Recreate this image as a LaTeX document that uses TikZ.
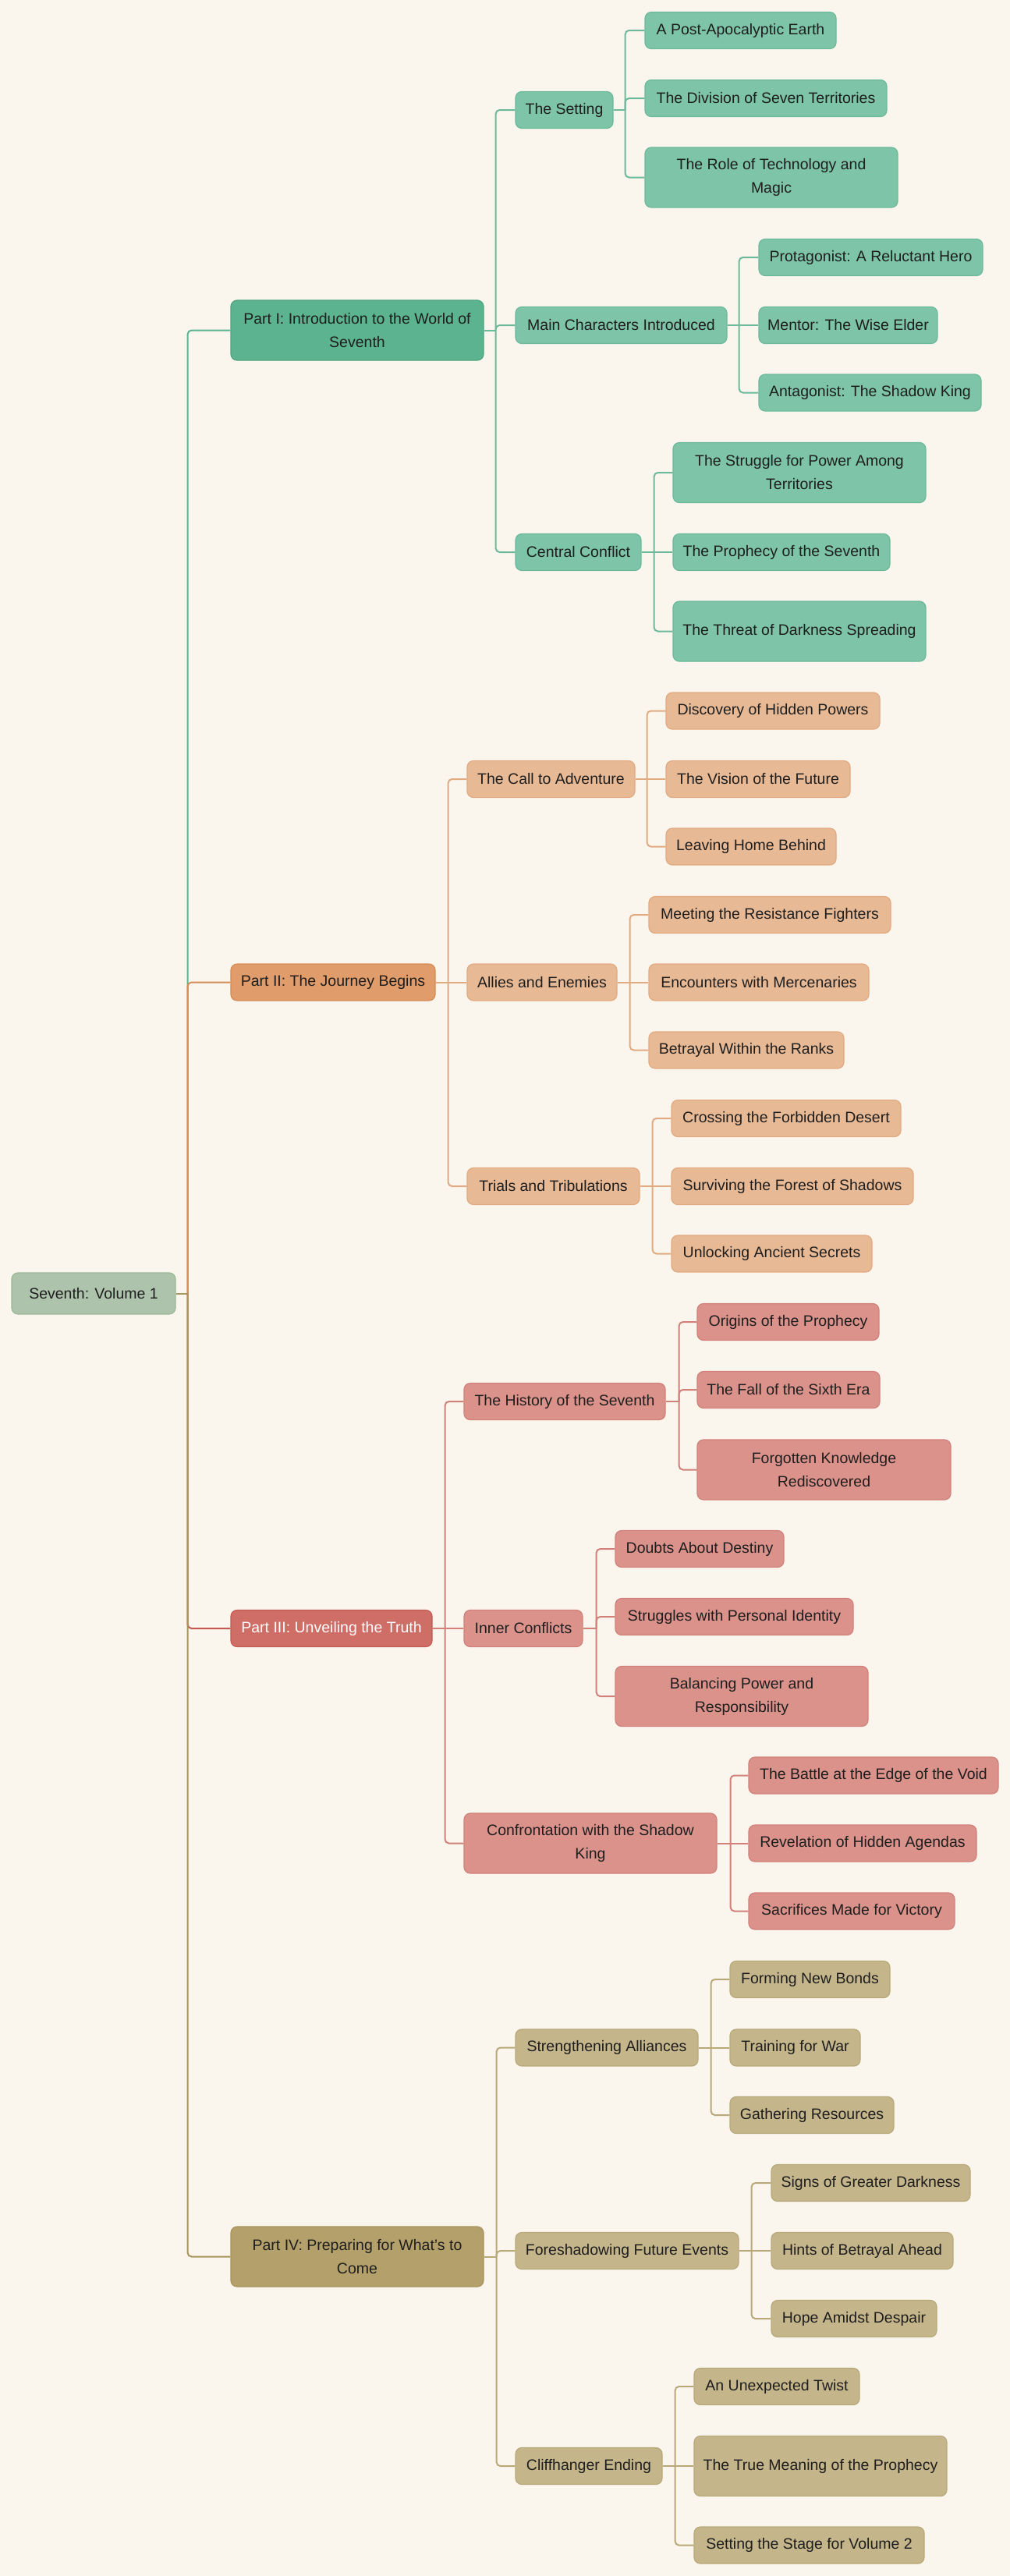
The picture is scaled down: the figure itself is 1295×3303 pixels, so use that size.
\documentclass[tikz,border=0pt]{standalone}
\usepackage{fontspec}
\setmainfont{Liberation Sans}
\definecolor{paper}{HTML}{FAF6EE}
\definecolor{ink}{HTML}{1E1E1E}
\definecolor{rootf}{HTML}{AEC3AB}
\definecolor{rootd}{HTML}{9CB898}
\definecolor{gfa}{HTML}{5BB38F}
\definecolor{gda}{HTML}{4EA47F}
\definecolor{gfb}{HTML}{7DC4A8}
\definecolor{gdb}{HTML}{6DBA9A}
\definecolor{ofa}{HTML}{E09C6A}
\definecolor{oda}{HTML}{D58B56}
\definecolor{ofb}{HTML}{E8B995}
\definecolor{odb}{HTML}{E2AA80}
\definecolor{rfa}{HTML}{CF6E66}
\definecolor{rda}{HTML}{C45A52}
\definecolor{rfb}{HTML}{DA928B}
\definecolor{rdb}{HTML}{D2807A}
\definecolor{yfa}{HTML}{B3A06A}
\definecolor{yda}{HTML}{A8955D}
\definecolor{yfb}{HTML}{C4B58B}
\definecolor{ydb}{HTML}{B9A978}
\tikzset{
    topic/.style={rectangle,rounded corners=8pt,line width=1.2pt,inner sep=0pt,
        minimum height=47pt,align=center,text=ink,font=\fontsize{19.5}{30}\selectfont},
    tall/.style={minimum height=77pt},
    root/.style={topic,fill=rootf,draw=rootd,minimum height=53pt},
    partI/.style={topic,fill=gfa,draw=gda},
    subI/.style={topic,fill=gfb,draw=gdb},
    partII/.style={topic,fill=ofa,draw=oda},
    subII/.style={topic,fill=ofb,draw=odb},
    partIII/.style={topic,fill=rfa,draw=rda,text=white},
    subIII/.style={topic,fill=rfb,draw=rdb},
    partIV/.style={topic,fill=yfa,draw=yda},
    subIV/.style={topic,fill=yfb,draw=ydb},
    edgeI/.style={draw=gfa,line width=2pt,rounded corners=5pt},
    twigI/.style={draw=gdb,line width=2pt,rounded corners=5pt},
    edgeII/.style={draw=oda,line width=2pt,rounded corners=5pt},
    twigII/.style={draw=odb,line width=2pt,rounded corners=5pt},
    edgeIII/.style={draw=rda,line width=2pt,rounded corners=5pt},
    twigIII/.style={draw=rdb,line width=2pt,rounded corners=5pt},
    edgeIV/.style={draw=yda,line width=2pt,rounded corners=5pt},
    twigIV/.style={draw=ydb,line width=2pt,rounded corners=5pt},
}
\begin{document}
\begin{tikzpicture}[x=1pt,y=-1pt]
    \fill[paper] (0,0) rectangle (1295,3303);
    \useasboundingbox (0,0) rectangle (1295,3303);
    % centre and parts
    \node[root, minimum width=210] (root) at (120,1658.5) {Seventh: Volume 1};
    \node[partI, tall, minimum width=324] (p1) at (458,423.5) {Part I: Introduction to the World of\\Seventh};
    \node[partII, minimum width=262] (p2) at (427,1259.5) {Part II: The Journey Begins};
    \node[partIII, minimum width=258] (p3) at (425,2088) {Part III: Unveiling the Truth};
    \node[partIV, tall, minimum width=324] (p4) at (458,2893.5) {Part IV: Preparing for What’s to\\Come};
    % part I
    \node[subI, minimum width=125] (setting) at (723.5,141) {The Setting};
    \node[subI, minimum width=271] (chars) at (796.5,417) {Main Characters Introduced};
    \node[subI, minimum width=161] (conflict) at (741.5,708) {Central Conflict};
    \node[subI, minimum width=245] (earth) at (949.5,39) {A Post-Apocalyptic Earth};
    \node[subI, minimum width=310] (division) at (982,126) {The Division of Seven Territories};
    \node[subI, tall, minimum width=324] (techmagic) at (989,227.5) {The Role of Technology and\\Magic};
    \node[subI, minimum width=287] (hero) at (1116.5,330) {Protagonist: A Reluctant Hero};
    \node[subI, minimum width=229] (elder) at (1087.5,417) {Mentor: The Wise Elder};
    \node[subI, minimum width=285] (shadowking) at (1115.5,503.5) {Antagonist: The Shadow King};
    \node[subI, tall, minimum width=324] (struggle) at (1025,606) {The Struggle for Power Among\\Territories};
    \node[subI, minimum width=278] (prophecy) at (1002,708) {The Prophecy of the Seventh};
    \node[subI, tall, minimum width=324] (darkness) at (1025,809.5) {The Threat of Darkness Spreading};
    % part II
    \node[subII, minimum width=215] (call) at (706.5,999) {The Call to Adventure};
    \node[subII, minimum width=192] (allies) at (695,1259.5) {Allies and Enemies};
    \node[subII, minimum width=221] (trials) at (709.5,1521) {Trials and Tribulations};
    \node[subII, minimum width=274] (powers) at (991,911.5) {Discovery of Hidden Powers};
    \node[subII, minimum width=236] (vision) at (972,999) {The Vision of the Future};
    \node[subII, minimum width=218] (home) at (963,1085.5) {Leaving Home Behind};
    \node[subII, minimum width=310] (resistance) at (987,1173) {Meeting the Resistance Fighters};
    \node[subII, minimum width=282] (mercs) at (973,1259.5) {Encounters with Mercenaries};
    \node[subII, minimum width=250] (betrayal) at (957,1346.5) {Betrayal Within the Ranks};
    \node[subII, minimum width=294] (desert) at (1008,1434) {Crossing the Forbidden Desert};
    \node[subII, minimum width=310] (forest) at (1016,1521) {Surviving the Forest of Shadows};
    \node[subII, minimum width=257] (secrets) at (989.5,1607.5) {Unlocking Ancient Secrets};
    % part III
    \node[subIII, minimum width=258] (history) at (724,1797) {The History of the Seventh};
    \node[subIII, minimum width=152] (inner) at (671,2088) {Inner Conflicts};
    \node[subIII, tall, minimum width=324] (confront) at (757,2363.5) {Confrontation with the Shadow\\King};
    \node[subIII, minimum width=233] (origins) at (1010.5,1695) {Origins of the Prophecy};
    \node[subIII, minimum width=234] (sixthera) at (1011,1782) {The Fall of the Sixth Era};
    \node[subIII, tall, minimum width=325] (knowledge) at (1056.5,1884.5) {Forgotten Knowledge\\Rediscovered};
    \node[subIII, minimum width=216] (doubts) at (897,1986) {Doubts About Destiny};
    \node[subIII, minimum width=305] (identity) at (941.5,2073) {Struggles with Personal Identity};
    \node[subIII, tall, minimum width=324] (balance) at (951,2175) {Balancing Power and\\Responsibility};
    \node[subIII, minimum width=320] (voidbattle) at (1120,2276.5) {The Battle at the Edge of the Void};
    \node[subIII, minimum width=292] (agendas) at (1106,2363.5) {Revelation of Hidden Agendas};
    \node[subIII, minimum width=264] (sacrifices) at (1092,2450.5) {Sacrifices Made for Victory};
    % part IV
    \node[subIV, minimum width=234] (alliance) at (778,2625.5) {Strengthening Alliances};
    \node[subIV, minimum width=286] (foreshadow) at (804,2886) {Foreshadowing Future Events};
    \node[subIV, minimum width=188] (cliff) at (755,3162) {Cliffhanger Ending};
    \node[subIV, minimum width=205] (bonds) at (1038.5,2538) {Forming New Bonds};
    \node[subIV, minimum width=167] (training) at (1019.5,2625.5) {Training for War};
    \node[subIV, minimum width=210] (resources) at (1041,2712) {Gathering Resources};
    \node[subIV, minimum width=255] (signs) at (1116.5,2799) {Signs of Greater Darkness};
    \node[subIV, minimum width=233] (hints) at (1105.5,2886) {Hints of Betrayal Ahead};
    \node[subIV, minimum width=212] (hope) at (1095,2973) {Hope Amidst Despair};
    \node[subIV, minimum width=212] (twist) at (996,3060) {An Unexpected Twist};
    \node[subIV, tall, minimum width=324] (meaning) at (1052,3162) {The True Meaning of the Prophecy};
    \node[subIV, minimum width=295] (volume2) at (1037.5,3263.5) {Setting the Stage for Volume 2};

    % trunk
    \draw[edgeIV] (root.east) -- ++(15,0) coordinate (jr);
    \draw[edgeI] (jr) |- (p1.west);
    \draw[edgeII] (jr) |- (p2.west);
    \draw[edgeIII] (jr) |- (p3.west);
    \draw[edgeIV] (jr) |- (p4.west);
    % part I branches
    \draw[twigI] (p1.east) -- ++(15,0) coordinate (j1);
    \draw[twigI] (j1) |- (setting.west);
    \draw[twigI] (j1) |- (chars.west);
    \draw[twigI] (j1) |- (conflict.west);
    \draw[twigI] (setting.east) -- ++(15,0) coordinate (j11);
    \draw[twigI] (j11) |- (earth.west);
    \draw[twigI] (j11) |- (division.west);
    \draw[twigI] (j11) |- (techmagic.west);
    \draw[twigI] (chars.east) -- ++(15,0) coordinate (j12);
    \draw[twigI] (j12) |- (hero.west);
    \draw[twigI] (j12) -- (elder.west);
    \draw[twigI] (j12) |- (shadowking.west);
    \draw[twigI] (conflict.east) -- ++(16,0) coordinate (j13);
    \draw[twigI] (j13) |- (struggle.west);
    \draw[twigI] (j13) -- (prophecy.west);
    \draw[twigI] (j13) |- (darkness.west);
    % part II branches
    \draw[twigII] (p2.east) -- ++(16,0) coordinate (j2);
    \draw[twigII] (j2) |- (call.west);
    \draw[twigII] (j2) -- (allies.west);
    \draw[twigII] (j2) |- (trials.west);
    \draw[twigII] (call.east) -- ++(15,0) coordinate (j21);
    \draw[twigII] (j21) |- (powers.west);
    \draw[twigII] (j21) -- (vision.west);
    \draw[twigII] (j21) |- (home.west);
    \draw[twigII] (allies.east) -- ++(16,0) coordinate (j22);
    \draw[twigII] (j22) |- (resistance.west);
    \draw[twigII] (j22) -- (mercs.west);
    \draw[twigII] (j22) |- (betrayal.west);
    \draw[twigII] (trials.east) -- ++(16,0) coordinate (j23);
    \draw[twigII] (j23) |- (desert.west);
    \draw[twigII] (j23) -- (forest.west);
    \draw[twigII] (j23) |- (secrets.west);
    % part III branches
    \draw[twigIII] (p3.east) -- ++(16,0) coordinate (j3);
    \draw[twigIII] (j3) |- (history.west);
    \draw[twigIII] (j3) -- (inner.west);
    \draw[twigIII] (j3) |- (confront.west);
    \draw[twigIII] (history.east) -- ++(17,0) coordinate (j31);
    \draw[twigIII] (j31) |- (origins.west);
    \draw[twigIII] (j31) |- (sixthera.west);
    \draw[twigIII] (j31) |- (knowledge.west);
    \draw[twigIII] (inner.east) -- ++(17,0) coordinate (j32);
    \draw[twigIII] (j32) |- (doubts.west);
    \draw[twigIII] (j32) |- (identity.west);
    \draw[twigIII] (j32) |- (balance.west);
    \draw[twigIII] (confront.east) -- ++(17,0) coordinate (j33);
    \draw[twigIII] (j33) |- (voidbattle.west);
    \draw[twigIII] (j33) -- (agendas.west);
    \draw[twigIII] (j33) |- (sacrifices.west);
    % part IV branches
    \draw[twigIV] (p4.east) -- ++(16,0) coordinate (j4);
    \draw[twigIV] (j4) |- (alliance.west);
    \draw[twigIV] (j4) |- (foreshadow.west);
    \draw[twigIV] (j4) |- (cliff.west);
    \draw[twigIV] (alliance.east) -- ++(16,0) coordinate (j41);
    \draw[twigIV] (j41) |- (bonds.west);
    \draw[twigIV] (j41) -- (training.west);
    \draw[twigIV] (j41) |- (resources.west);
    \draw[twigIV] (foreshadow.east) -- ++(16,0) coordinate (j42);
    \draw[twigIV] (j42) |- (signs.west);
    \draw[twigIV] (j42) -- (hints.west);
    \draw[twigIV] (j42) |- (hope.west);
    \draw[twigIV] (cliff.east) -- ++(16,0) coordinate (j43);
    \draw[twigIV] (j43) |- (twist.west);
    \draw[twigIV] (j43) -- (meaning.west);
    \draw[twigIV] (j43) |- (volume2.west);
\end{tikzpicture}
\end{document}
